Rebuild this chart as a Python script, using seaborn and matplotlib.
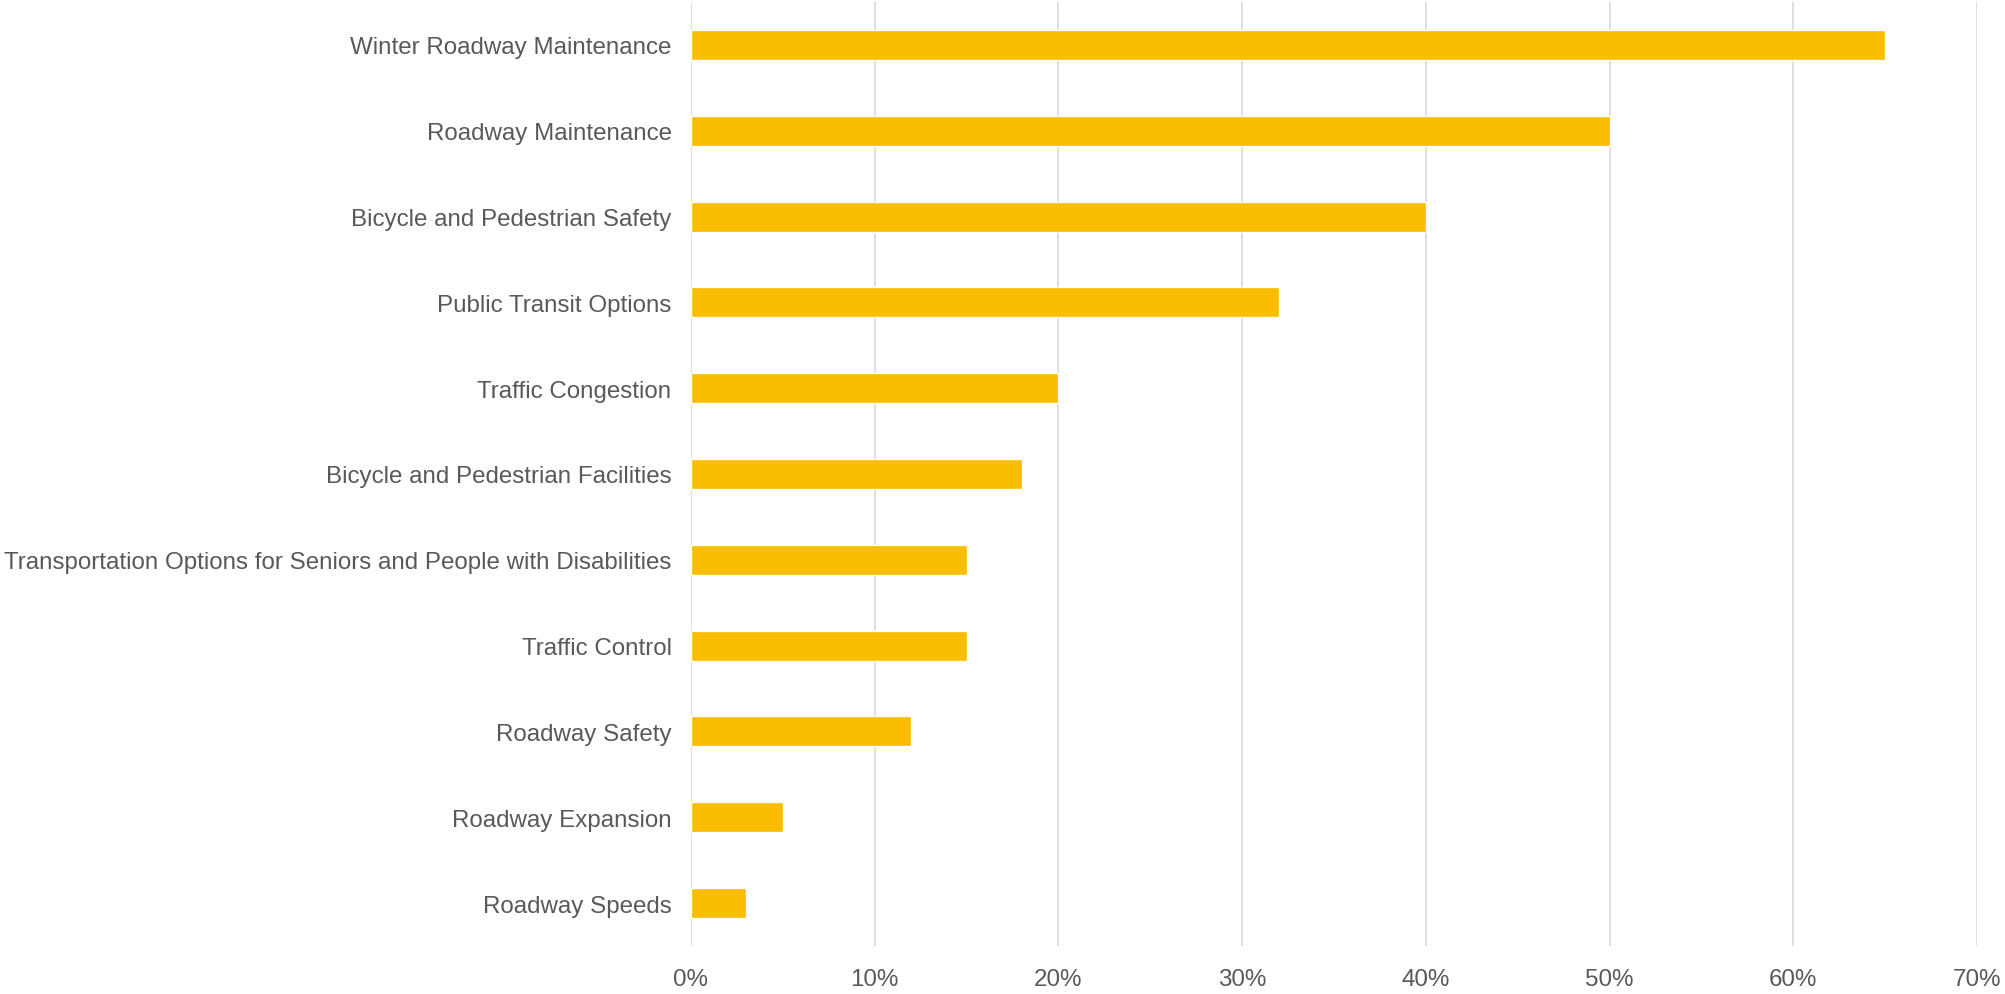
import matplotlib
matplotlib.use("Agg")
import matplotlib.pyplot as plt
import seaborn as sns
import pandas as pd
from matplotlib.ticker import FuncFormatter, MultipleLocator

categories = [
    "Winter Roadway Maintenance",
    "Roadway Maintenance",
    "Bicycle and Pedestrian Safety",
    "Public Transit Options",
    "Traffic Congestion",
    "Bicycle and Pedestrian Facilities",
    "Transportation Options for Seniors and People with Disabilities",
    "Traffic Control",
    "Roadway Safety",
    "Roadway Expansion",
    "Roadway Speeds",
]
values = [65, 50, 40, 32, 20, 18, 15, 15, 12, 5, 3]

df = pd.DataFrame({"category": categories, "value": values})

sns.set_theme(style="white")
plt.rcParams["font.family"] = ["Liberation Sans", "DejaVu Sans"]

fig = plt.figure(figsize=(20.05, 9.95), dpi=100)
ax = fig.add_axes([691 / 2005, 48 / 995, (1977 - 691) / 2005, (947 - 3) / 995])

sns.barplot(data=df, x="value", y="category", color="#FABD00", saturation=1,
            width=0.35, ax=ax, orient="h", zorder=3)

ax.set_xlim(0, 70)
ax.set_ylim(len(categories) - 0.5, -0.5)
ax.xaxis.set_major_locator(MultipleLocator(10))
ax.xaxis.set_major_formatter(FuncFormatter(lambda v, p: f"{int(v)}%"))
ax.grid(axis="x", color="#D9D9D9", linewidth=1.2, zorder=0)
ax.grid(axis="y", visible=False)
for s in ax.spines.values():
    s.set_visible(False)
ax.set_xlabel("")
ax.set_ylabel("")
ax.tick_params(axis="both", length=0, labelsize=17.4, labelcolor="#595959")
ax.tick_params(axis="x", pad=16)
ax.tick_params(axis="y", pad=14)

fig.savefig("out.png", dpi=100, facecolor="white")
